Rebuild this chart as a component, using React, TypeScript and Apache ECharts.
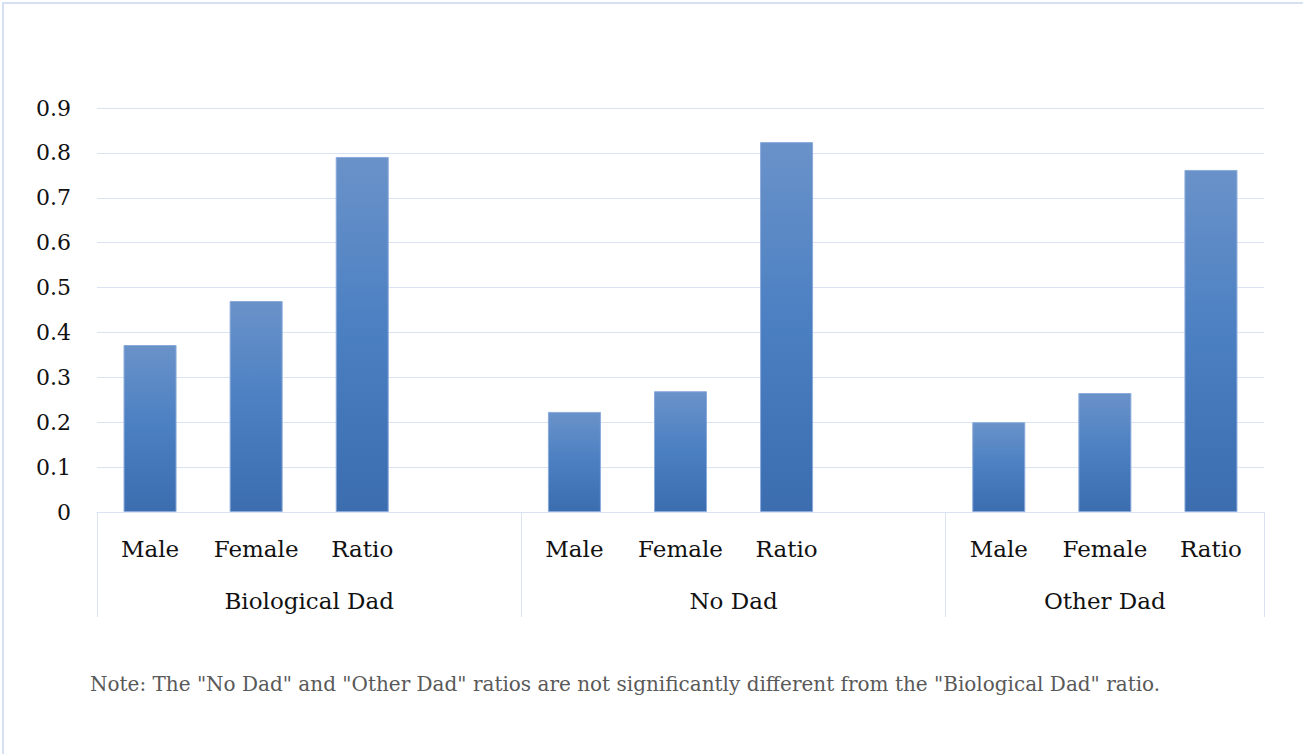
import React, { useEffect, useRef } from "react";
import * as echarts from "echarts";

const subCategories = ["Male", "Female", "Ratio"];
const groups = ["Biological Dad", "No Dad", "Other Dad"];
const bioDadValues = [0.372, 0.47, 0.791];
const noDadValues = [0.223, 0.269, 0.824];
const otherDadValues = [0.2, 0.265, 0.762];
const yTicks = [0, 0.1, 0.2, 0.3, 0.4, 0.5, 0.6, 0.7, 0.8, 0.9];
const noteText =
  'Note: The "No Dad" and "Other Dad" ratios are not significantly different from the "Biological Dad" ratio.';

export default function App() {
  const ref = useRef<HTMLDivElement>(null);
  useEffect(() => {
    if (!ref.current) return;
    const chart = echarts.init(ref.current, null, { renderer: "svg" });
    const groupValues = [bioDadValues, noDadValues, otherDadValues];
    // category axis: 3 sub-categories per group, plus an empty spacer between groups
    const cats: string[] = [];
    const values: (number | null)[] = [];
    const groupSizes: number[] = [];
    groupValues.forEach((vals, gi) => {
      subCategories.forEach((c, i) => {
        cats.push(c);
        values.push(vals[i]);
      });
      let size = subCategories.length;
      if (gi < groupValues.length - 1) {
        cats.push("");
        values.push(null);
        size += 1;
      }
      groupSizes.push(size);
    });
    // group axis: half-slot points (boundaryGap false)
    const halfCount = cats.length * 2 + 1;
    const groupAxisData: string[] = new Array(halfCount).fill("");
    const boundaryIdx: number[] = [0];
    let pos = 0;
    groupSizes.forEach((size, gi) => {
      groupAxisData[pos * 2 + size] = groups[gi];
      pos += size;
      boundaryIdx.push(pos * 2);
    });
    const labelIdx = groupAxisData
      .map((v, i) => (v ? i : -1))
      .filter((i) => i >= 0);

    const lineColor = "#d9e3f3";
    const serif = "DejaVu Serif";

    chart.setOption({
      animation: false,
      grid: { left: 97, right: 39, top: 108, bottom: 242, containLabel: false },
      xAxis: [
        {
          type: "category",
          data: cats,
          position: "bottom",
          axisLine: { show: true, lineStyle: { color: lineColor, width: 1 } },
          axisTick: { show: false },
          axisLabel: {
            interval: 0,
            margin: 25,
            fontFamily: serif,
            fontSize: 23,
            color: "#111",
          },
          splitLine: { show: false },
        },
        {
          type: "category",
          data: groupAxisData,
          boundaryGap: false,
          position: "bottom",
          offset: 0,
          axisLine: { show: false },
          axisTick: {
            show: true,
            length: 105,
            interval: (i: number) => boundaryIdx.indexOf(i) >= 0,
            lineStyle: { color: lineColor, width: 1 },
          },
          axisLabel: {
            interval: (i: number) => labelIdx.indexOf(i) >= 0,
            margin: 77,
            fontFamily: serif,
            fontSize: 23,
            color: "#111",
          },
          splitLine: { show: false },
        },
      ],
      yAxis: {
        type: "value",
        min: yTicks[0],
        max: yTicks[yTicks.length - 1],
        interval: 0.1,
        axisLine: { show: false },
        axisTick: { show: false },
        axisLabel: {
          margin: 26,
          fontFamily: serif,
          fontSize: 22,
          color: "#111",
          formatter: (v: number) => (v === 0 ? "0" : v.toFixed(1)),
        },
        splitLine: { show: true, lineStyle: { color: lineColor, width: 1 } },
      },
      series: [
        {
          type: "bar",
          xAxisIndex: 0,
          data: values,
          barWidth: 53,
          itemStyle: {
            color: new echarts.graphic.LinearGradient(0, 0, 0, 1, [
              { offset: 0, color: "#6a92c9" },
              { offset: 0.5, color: "#4a7fc2" },
              { offset: 1, color: "#3b6daf" },
            ]),
            borderColor: "#8aaadb",
            borderWidth: 1,
          },
        },
      ],
      graphic: [
        {
          type: "rect",
          shape: { x: 3, y: 3, width: 1320, height: 800 },
          style: { fill: "none", stroke: "#d5e0f2", lineWidth: 2 },
          silent: true,
        },
        {
          type: "text",
          left: 90,
          top: 674,
          style: {
            text: noteText,
            fontFamily: serif,
            fontSize: 20,
            fill: "#595959",
          },
        },
      ],
    });
    return () => chart.dispose();
  }, []);
  return (
    <div
      ref={ref}
      style={{ position: "fixed", left: 0, top: 0, width: 1303, height: 754, background: "#fff" }}
    />
  );
}
